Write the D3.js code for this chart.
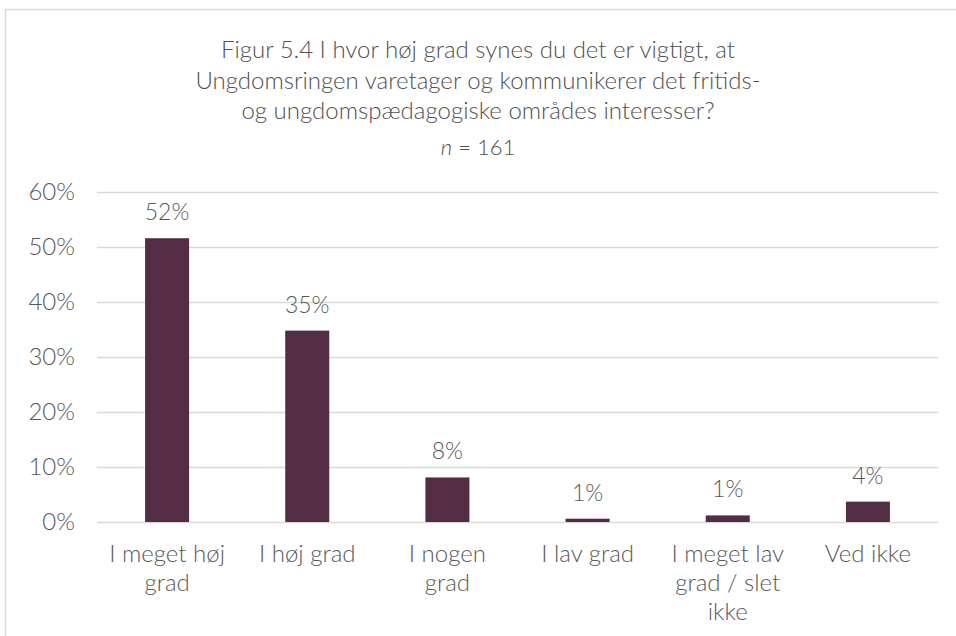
<!DOCTYPE html>
<html>
<head>
<meta charset="utf-8">
<script src="https://cdn.jsdelivr.net/npm/d3@7"></script>
<style>
  html, body { margin: 0; padding: 0; background: #fff; }
  svg { display: block; font-family: Lato, "Open Sans", sans-serif; font-weight: 300; }
</style>
</head>
<body>
<svg id="chart" width="956" height="636"></svg>
<script>
// ---------------------------------------------------------------------------
// Data
// ---------------------------------------------------------------------------

const titleLines = [
    "Figur 5.4 I hvor høj grad synes du det er vigtigt, at",
    "Ungdomsringen varetager og kommunikerer det fritids-",
    "og ungdomspædagogiske områdes interesser?"
];
const categories = ["I meget høj grad", "I høj grad", "I nogen grad", "I lav grad", "I meget lav grad / slet ikke", "Ved ikke"];
const values = [51.6, 34.8, 8.1, 0.6, 1.2, 3.7];
const valueLabels = ["52%", "35%", "8%", "1%", "1%", "4%"];
const yTicks = [0, 10, 20, 30, 40, 50, 60];

// ---------------------------------------------------------------------------
// Layout
// ---------------------------------------------------------------------------

const width = 956, height = 636;
const plot = { left: 97, right: 938, top: 192, bottom: 522 };
const barColor = "#532c45";
const gridColor = "#d9d9d9";
const textColor = "#595959";

const svg = d3.select("#chart");

// chart area border (cropped at right/bottom like the source)
svg.append("rect")
    .attr("x", 5.5).attr("y", 9.5)
    .attr("width", width + 10).attr("height", height + 10)
    .attr("fill", "none")
    .attr("stroke", gridColor)
    .attr("stroke-width", 1.5);

// ---------------------------------------------------------------------------
// Title
// ---------------------------------------------------------------------------

const title = svg.append("text")
    .attr("text-anchor", "middle")
    .attr("fill", "#505050")
    .attr("font-size", "24px");

titleLines.forEach((line, i) => {
    title.append("tspan")
        .attr("x", 478)
        .attr("y", 58 + i * 30.5)
        .text(line);
});

const sub = svg.append("text")
    .attr("x", 478).attr("y", 155)
    .attr("text-anchor", "middle")
    .attr("fill", "#505050")
    .attr("font-size", "22px");
sub.append("tspan").attr("font-style", "italic").text("n");
sub.append("tspan").text(" = 161");

// ---------------------------------------------------------------------------
// Scales + axes
// ---------------------------------------------------------------------------

const x = d3.scaleBand()
    .domain(categories)
    .range([plot.left, plot.right])
    .paddingInner(0.686)
    .paddingOuter(0.343);

const y = d3.scaleLinear()
    .domain([0, 60])
    .range([plot.bottom, plot.top]);

const yAxis = svg.append("g")
    .attr("transform", `translate(${plot.left},0)`)
    .call(d3.axisLeft(y)
        .tickValues(yTicks)
        .tickSize(-(plot.right - plot.left))
        .tickPadding(22)
        .tickFormat(d => d + "%"));

yAxis.select(".domain").remove();
yAxis.selectAll(".tick line")
    .attr("stroke", gridColor)
    .attr("stroke-width", 1.5);
yAxis.selectAll(".tick text")
    .attr("fill", textColor)
    .attr("font-size", "24px")
    .attr("font-family", "Lato, sans-serif")
    .attr("font-weight", 300);

// ---------------------------------------------------------------------------
// Bars + value labels
// ---------------------------------------------------------------------------

const data = categories.map((c, i) => ({ cat: c, value: values[i], label: valueLabels[i] }));

svg.selectAll("rect.bar")
    .data(data)
    .join("rect")
    .attr("class", "bar")
    .attr("x", d => x(d.cat))
    .attr("y", d => y(d.value))
    .attr("width", x.bandwidth())
    .attr("height", d => y(0) - y(d.value))
    .attr("fill", barColor);

svg.selectAll("text.val")
    .data(data)
    .join("text")
    .attr("class", "val")
    .attr("x", d => x(d.cat) + x.bandwidth() / 2)
    .attr("y", d => y(d.value) - 18)
    .attr("text-anchor", "middle")
    .attr("fill", textColor)
    .attr("font-size", "23px")
    .text(d => d.label);

// ---------------------------------------------------------------------------
// Category labels (wrapped)
// ---------------------------------------------------------------------------

function wrapWords(textSel, maxW) {
    textSel.each(function () {
        const t = d3.select(this);
        const words = t.text().split(" ");
        const cx = t.attr("x");
        t.text(null);
        let line = [];
        let tspan = t.append("tspan").attr("x", cx).attr("dy", 0);
        words.forEach(w => {
            line.push(w);
            tspan.text(line.join(" "));
            if (tspan.node().getComputedTextLength() > maxW && line.length > 1) {
                line.pop();
                tspan.text(line.join(" "));
                line = [w];
                tspan = t.append("tspan").attr("x", cx).attr("dy", 29).text(w);
            }
        });
    });
}

svg.selectAll("text.cat")
    .data(categories)
    .join("text")
    .attr("class", "cat")
    .attr("x", d => x(d) + x.bandwidth() / 2)
    .attr("y", plot.bottom + 40)
    .attr("text-anchor", "middle")
    .attr("fill", textColor)
    .attr("font-size", "24px")
    .text(d => d)
    .call(wrapWords, 124);
</script>
</body>
</html>
